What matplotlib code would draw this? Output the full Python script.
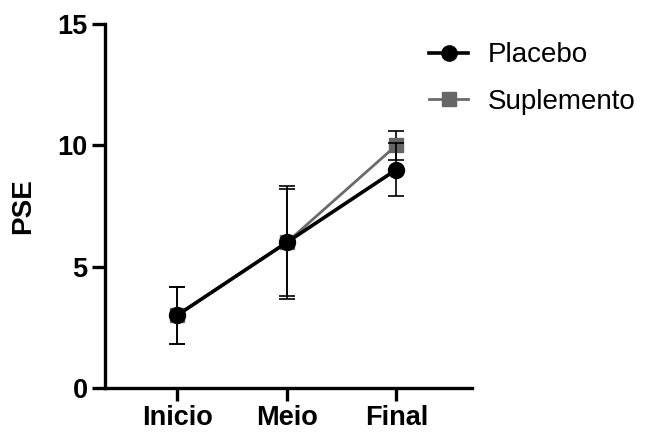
import matplotlib
matplotlib.use("Agg")
import matplotlib.pyplot as plt
from matplotlib.lines import Line2D

plt.rcParams['font.family'] = ['Liberation Sans', 'DejaVu Sans']

categories = ["Inicio", "Meio", "Final"]
placebo = [3.0, 6.0, 9.0]
placebo_err = [1.18, 2.2, 1.1]
suplemento = [3.0, 6.0, 10.0]
suplemento_err = [1.18, 2.32, 0.6]

fig = plt.figure(figsize=(6.5, 4.32), dpi=100)
ax = fig.add_axes([0.1615, 0.1019, 0.5645, 0.8425])
x = list(range(len(categories)))

ax.errorbar(x, suplemento, yerr=suplemento_err, color='#6b6b6b', lw=2.0,
            marker='s', ms=9.5, mfc='#666666', mec='#666666',
            ecolor='black', elinewidth=1.2, capsize=5.5, capthick=1.2, zorder=3)
ax.errorbar(x, placebo, yerr=placebo_err, color='black', lw=2.6,
            marker='o', ms=11.5, mfc='black', mec='black',
            ecolor='black', elinewidth=1.2, capsize=5.5, capthick=1.2, zorder=4)

ax.set_xlim(-0.66, 2.69)
ax.set_ylim(0, 15)
ax.set_yticks([0, 5, 10, 15])
ax.set_xticks(x)
ax.set_xticklabels(categories)
for s in ['top', 'right']:
    ax.spines[s].set_visible(False)
for s in ['left', 'bottom']:
    ax.spines[s].set_linewidth(2.4)
ax.tick_params(axis='both', width=2.4, length=9.5, labelsize=19.5, pad=3)
for lab in ax.get_xticklabels() + ax.get_yticklabels():
    lab.set_fontweight('bold')
ax.set_ylabel("PSE", fontsize=20, fontweight='bold', labelpad=15)

handles = [
    Line2D([], [], color='black', lw=2.6, marker='o', ms=11, mfc='black'),
    Line2D([], [], color='#6b6b6b', lw=2.0, marker='s', ms=9.5, mfc='#666666', mec='#666666'),
]
fig.legend(handles, ["Placebo", "Suplemento"], loc='upper left',
           bbox_to_anchor=(0.622, 0.96), frameon=False, fontsize=20,
           handlelength=1.4, handletextpad=0.7, labelspacing=0.75)

fig.savefig("out.png", dpi=100)
